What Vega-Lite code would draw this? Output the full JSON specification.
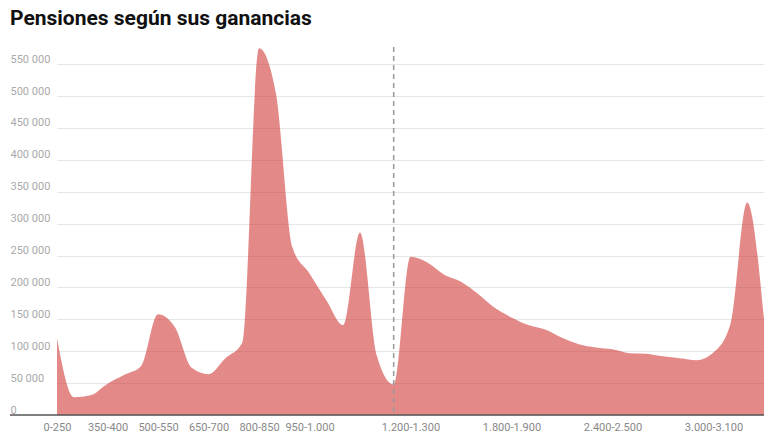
{
  "$schema": "https://vega.github.io/schema/vega-lite/v6.json",
  "title": {
    "text": "Pensiones según sus ganancias",
    "anchor": "start",
    "frame": "group",
    "font": "Roboto",
    "fontSize": 21,
    "fontWeight": "bold",
    "color": "#111111",
    "offset": 17
  },
  "autosize": {"type": "none"},
  "padding": {"left": 10, "top": 47, "right": 4, "bottom": 27},
  "width": 754,
  "height": 368,
  "data": {
    "values": [
      {"tramo": "0-250", "pensiones": 120000},
      {"tramo": "250-300", "pensiones": 28000},
      {"tramo": "300-350", "pensiones": 31000},
      {"tramo": "350-400", "pensiones": 49000},
      {"tramo": "400-450", "pensiones": 63000},
      {"tramo": "450-500", "pensiones": 77000},
      {"tramo": "500-550", "pensiones": 158000},
      {"tramo": "550-600", "pensiones": 138000},
      {"tramo": "600-650", "pensiones": 74000},
      {"tramo": "650-700", "pensiones": 64000},
      {"tramo": "700-750", "pensiones": 89000},
      {"tramo": "750-800", "pensiones": 113000},
      {"tramo": "800-850", "pensiones": 575000},
      {"tramo": "850-900", "pensiones": 505000},
      {"tramo": "900-950", "pensiones": 262000},
      {"tramo": "950-1.000", "pensiones": 222000},
      {"tramo": "1.000-1.050", "pensiones": 180000},
      {"tramo": "1.050-1.075", "pensiones": 141000},
      {"tramo": "1.075-1.100", "pensiones": 286000},
      {"tramo": "1.100-1.150", "pensiones": 93000},
      {"tramo": "1.150-1.200", "pensiones": 48000},
      {"tramo": "1.200-1.300", "pensiones": 248000},
      {"tramo": "1.300-1.400", "pensiones": 239000},
      {"tramo": "1.400-1.500", "pensiones": 220000},
      {"tramo": "1.500-1.600", "pensiones": 209000},
      {"tramo": "1.600-1.700", "pensiones": 190000},
      {"tramo": "1.700-1.800", "pensiones": 168000},
      {"tramo": "1.800-1.900", "pensiones": 153000},
      {"tramo": "1.900-2.000", "pensiones": 141000},
      {"tramo": "2.000-2.100", "pensiones": 134000},
      {"tramo": "2.100-2.200", "pensiones": 121000},
      {"tramo": "2.200-2.300", "pensiones": 111000},
      {"tramo": "2.300-2.400", "pensiones": 106000},
      {"tramo": "2.400-2.500", "pensiones": 103000},
      {"tramo": "2.500-2.600", "pensiones": 97000},
      {"tramo": "2.600-2.700", "pensiones": 96000},
      {"tramo": "2.700-2.800", "pensiones": 92000},
      {"tramo": "2.800-2.900", "pensiones": 89000},
      {"tramo": "2.900-3.000", "pensiones": 86000},
      {"tramo": "3.000-3.100", "pensiones": 98000},
      {"tramo": "3.100-3.200", "pensiones": 142000},
      {"tramo": "3.200-3.300", "pensiones": 333000},
      {"tramo": "> 3.300", "pensiones": 150000}
    ]
  },
  "encoding": {
    "x": {
      "field": "tramo",
      "type": "ordinal",
      "sort": null,
      "scale": {"type": "point", "range": [47, 754], "padding": 0},
      "axis": {
        "title": null,
        "values": ["0-250", "350-400", "500-550", "650-700", "800-850", "950-1.000", "1.200-1.300", "1.800-1.900", "2.400-2.500", "3.000-3.100"],
        "labelAngle": 0,
        "ticks": false,
        "grid": false,
        "domain": false,
        "labelColor": "#888888",
        "labelFont": "Roboto",
        "labelFontSize": 11,
        "labelPadding": 6
      }
    },
    "y": {
      "field": "pensiones",
      "type": "quantitative",
      "scale": {"domain": [0, 577000], "nice": false},
      "axis": {
        "title": null,
        "values": [0, 50000, 100000, 150000, 200000, 250000, 300000, 350000, 400000, 450000, 500000, 550000],
        "labelExpr": "replace(format(datum.value, ','), ',', ' ')",
        "domain": false,
        "ticks": false,
        "labelAlign": "left",
        "labelBaseline": "bottom",
        "labelPadding": 0,
        "labelDy": -3,
        "labelColor": "#aaaaaa",
        "labelFont": "Roboto",
        "labelFontSize": 11,
        "gridColor": "#e6e6e6",
        "gridWidth": 1
      }
    }
  },
  "layer": [
    {
      "mark": {"type": "area", "interpolate": "monotone", "color": "#d03c3a", "opacity": 0.6}
    },
    {
      "transform": [{"filter": "datum.tramo === '1.150-1.200'"}],
      "mark": {"type": "rule", "color": "#999999", "strokeWidth": 1.5, "strokeDash": [5, 4]},
      "encoding": {"y": {"value": 0}, "y2": {"value": 368}}
    },
    {
      "transform": [{"filter": "datum.tramo === '0-250'"}],
      "mark": {"type": "rule", "color": "#555555", "strokeWidth": 1.5},
      "encoding": {"x": {"value": 0}, "x2": {"value": 754}, "y": {"datum": 0}}
    }
  ],
  "config": {"view": {"stroke": null}}
}
